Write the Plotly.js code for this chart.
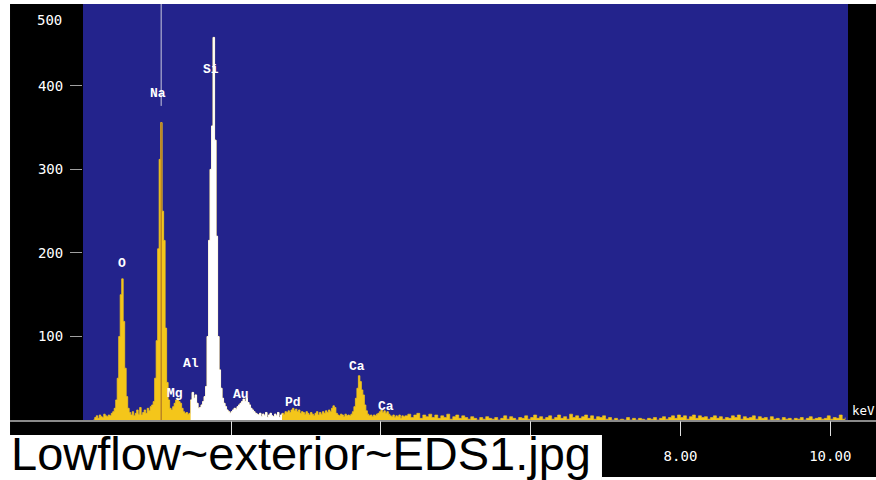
<!DOCTYPE html>
<html>
<head>
<meta charset="utf-8">
<script src="https://cdn.plot.ly/plotly-3.0.1.min.js"></script>
<style>html,body{margin:0;padding:0;background:#fff;}#chart{width:876px;height:480px;}</style>
</head>
<body>
<div id="chart"></div>
<script>
// Energy grid (keV) of the two spectrum segments
const lowStart = 0.16, lowStep = 0.02;
const highStart = 4.32, highStep = 0.04;

// Counts, 0.16 – 4.30 keV, 0.02 keV channels
const countsLow = [
  0, 3, 5, 2, 6, 4, 3, 7, 5, 4,
  6, 5, 8, 10, 14, 24, 50, 100, 150, 169,
  118, 62, 28, 14, 9, 6, 10, 5, 8, 12,
  7, 15, 6, 9, 12, 8, 14, 11, 16, 18,
  22, 50, 95, 205, 312, 356, 250, 215, 110, 45,
  24, 14, 12, 16, 20, 24, 26, 22, 20, 14,
  10, 8, 9, 7, 8, 24, 33, 26, 30, 20,
  14, 15, 18, 22, 28, 40, 100, 215, 300, 352,
  458, 335, 220, 100, 60, 38, 26, 20, 16, 12,
  10, 8, 10, 12, 14, 13, 16, 18, 20, 22,
  25, 22, 26, 21, 18, 14, 12, 10, 8, 7,
  6, 8, 4, 7, 5, 9, 3, 6, 8, 5,
  4, 7, 5, 9, 3, 6, 8, 7, 10, 9,
  11, 9, 12, 14, 11, 13, 10, 12, 8, 10,
  9, 7, 10, 8, 6, 9, 7, 5, 8, 10,
  6, 9, 7, 10, 8, 11, 9, 12, 10, 14,
  17, 15, 8, 6, 5, 7, 6, 4, 7, 5,
  6, 5, 7, 10, 16, 26, 38, 53, 46, 36,
  30, 18, 11, 7, 5, 6, 4, 6, 5, 7,
  8, 10, 12, 9, 11, 8, 10, 7, 5, 4,
  6, 3, 5, 4, 6, 2, 5, 4
];

// Counts, 4.32 – 10.20 keV, 0.04 keV channels
const countsHigh = [
  5, 7, 3, 6, 8, 2, 6, 4, 7, 3,
  6, 2, 5, 3, 7, 1, 4, 6, 2, 5,
  3, 1, 4, 2, 0, 3, 1, 4, 2, 1,
  3, 0, 2, 5, 1, 4, 2, 0, 3, 2,
  5, 1, 3, 6, 2, 4, 1, 3, 5, 1,
  3, 6, 2, 4, 1, 7, 3, 5, 2, 4,
  6, 2, 5, 1, 4, 3, 5, 1, 3, 0,
  2, 0, 1, 0, 3, 0, 2, 0, 2, 1,
  0, 2, 1, 3, 0, 2, 4, 1, 3, 5,
  2, 6, 3, 5, 1, 4, 6, 2, 5, 3,
  4, 1, 3, 5, 2, 4, 1, 3, 2, 5,
  3, 6, 1, 4, 2, 3, 5, 1, 4, 2,
  3, 0, 4, 1, 2, 0, 3, 1, 2, 0,
  2, 1, 3, 0, 2, 4, 1, 2, 3, 1,
  2, 5, 1, 3, 2, 6, 1, 3
];

// Highlighted region of interest (keV)
const roiStart = 1.46, roiEnd = 2.68;

// Peak labels
const peakNames = ['O', 'Na', 'Mg', 'Al', 'Si', 'Au', 'Pd', 'Ca', 'Ca'];
const peakLabelE = [0.544, 1.025, 1.252, 1.465, 1.732, 2.133, 2.827, 3.68, 4.07];
const peakLabelC = [187, 391, 32, 68, 419, 31, 21, 64, 16];

// Axis ticks
const xTickVals = [2, 4, 6, 8, 10];
const xTickText = ['', '', '', '8.00', '10.00'];
const yTickVals = [100, 200, 300, 400];
const yTickText = ['100', '200', '300', '400'];
const yTopLabel = '500';
const unitLabel = 'keV';
const fileLabel = 'Lowflow~exterior~EDS1.jpg';

const BLUE = '#23238C';
const YELLOW = '#F4C61A';

const i0 = Math.round((roiStart - lowStart) / lowStep);
const i1 = Math.round((roiEnd - lowStart) / lowStep);

const traces = [
  {x0: lowStart, dx: lowStep, y: countsLow, type: 'scatter', mode: 'lines',
   line: {shape: 'hv', color: YELLOW, width: 0.8}, fill: 'tozeroy', fillcolor: YELLOW, hoverinfo: 'skip'},
  {x0: highStart - highStep, dx: highStep, y: [countsLow[countsLow.length - 1]].concat(countsHigh), type: 'scatter', mode: 'lines',
   line: {shape: 'hv', color: YELLOW, width: 0.6}, fill: 'tozeroy', fillcolor: YELLOW, hoverinfo: 'skip'},
  {x0: roiStart, dx: lowStep, y: countsLow.slice(i0, i1 + 1), type: 'scatter', mode: 'lines',
   line: {shape: 'hv', color: '#FFFFFF', width: 0.8}, fill: 'tozeroy', fillcolor: '#FFFFFF', hoverinfo: 'skip'}
];

const monoFont = {family: 'DejaVu Sans Mono, monospace', size: 14, color: '#FFFFFF'};
const peakFont = {family: 'Liberation Mono, monospace', size: 13, color: '#FFFFFF', weight: 'bold'};

const annotations = peakNames.map((n, k) => ({
  x: peakLabelE[k], y: peakLabelC[k], xref: 'x', yref: 'y', text: n, showarrow: false,
  font: peakFont, xanchor: 'center', yanchor: 'middle'
}));
annotations.push({x: -0.0248, y: 0.9615, xref: 'paper', yref: 'paper', text: yTopLabel, showarrow: false,
  font: monoFont, xanchor: 'right', yanchor: 'middle'});
annotations.push({x: 1.0035, y: 0.024, xref: 'paper', yref: 'paper', text: unitLabel, showarrow: false,
  font: {family: 'DejaVu Sans Mono, monospace', size: 12.5, color: '#FFFFFF'}, xanchor: 'left', yanchor: 'middle', borderpad: 0});
annotations.push({x: -0.096, y: -0.080, xref: 'paper', yref: 'paper', text: fileLabel, showarrow: false,
  font: {family: 'Liberation Sans, Arial, sans-serif', size: 47, color: '#000000'}, xanchor: 'left', yanchor: 'middle', borderpad: 0});

const shapes = [
  // white margins
  {type: 'rect', xref: 'paper', yref: 'paper', x0: -0.2, x1: 1.1, y0: 1.0, y1: 1.05, fillcolor: '#FFFFFF', line: {width: 0}},
  {type: 'rect', xref: 'paper', yref: 'paper', x0: -0.2, x1: -0.0954, y0: -0.2, y1: 1.05, fillcolor: '#FFFFFF', line: {width: 0}},
  {type: 'rect', xref: 'paper', yref: 'paper', x0: -0.2, x1: 0.6784, y0: -0.2, y1: -0.0361, fillcolor: '#FFFFFF', line: {width: 0}},
  {type: 'rect', xref: 'paper', yref: 'paper', x0: 0.6784, x1: 1.1, y0: -0.2, y1: -0.137, fillcolor: '#FFFFFF', line: {width: 0}},
  // base line
  {type: 'line', xref: 'paper', yref: 'paper', x0: -0.0954, x1: 1.04, y0: -0.0024, y1: -0.0024, line: {color: '#B8B8B8', width: 1.5}},
  // cursor line at Na
  {type: 'line', xref: 'x', yref: 'y', x0: 1.067, x1: 1.067, y0: 376, y1: 498, line: {color: '#C8C8DC', width: 1}},
  {type: 'line', xref: 'x', yref: 'y', x0: 1.067, x1: 1.067, y0: 0, y1: 356, line: {color: '#A0642A', width: 1}}
];

const layout = {
  width: 876, height: 480,
  margin: {l: 83, r: 28, t: 4, b: 60, pad: 0},
  paper_bgcolor: '#000000', plot_bgcolor: BLUE,
  showlegend: false,
  xaxis: {range: [0.0234, 10.237], showgrid: false, zeroline: false, showline: false,
    ticks: 'outside', ticklen: 15, tickwidth: 1, tickcolor: '#E0E0E0',
    tickvals: xTickVals, ticktext: xTickText, tickfont: monoFont, ticklabelstandoff: 8, fixedrange: true},
  yaxis: {range: [0, 498], showgrid: false, zeroline: false, showline: false,
    ticks: 'outside', ticklen: 12, tickwidth: 1, tickcolor: '#A0A0A0',
    tickvals: yTickVals, ticktext: yTickText, tickfont: monoFont, ticklabelstandoff: 4, fixedrange: true},
  annotations: annotations,
  shapes: shapes
};

Plotly.newPlot('chart', traces, layout, {staticPlot: true, displayModeBar: false});
</script>
</body>
</html>
